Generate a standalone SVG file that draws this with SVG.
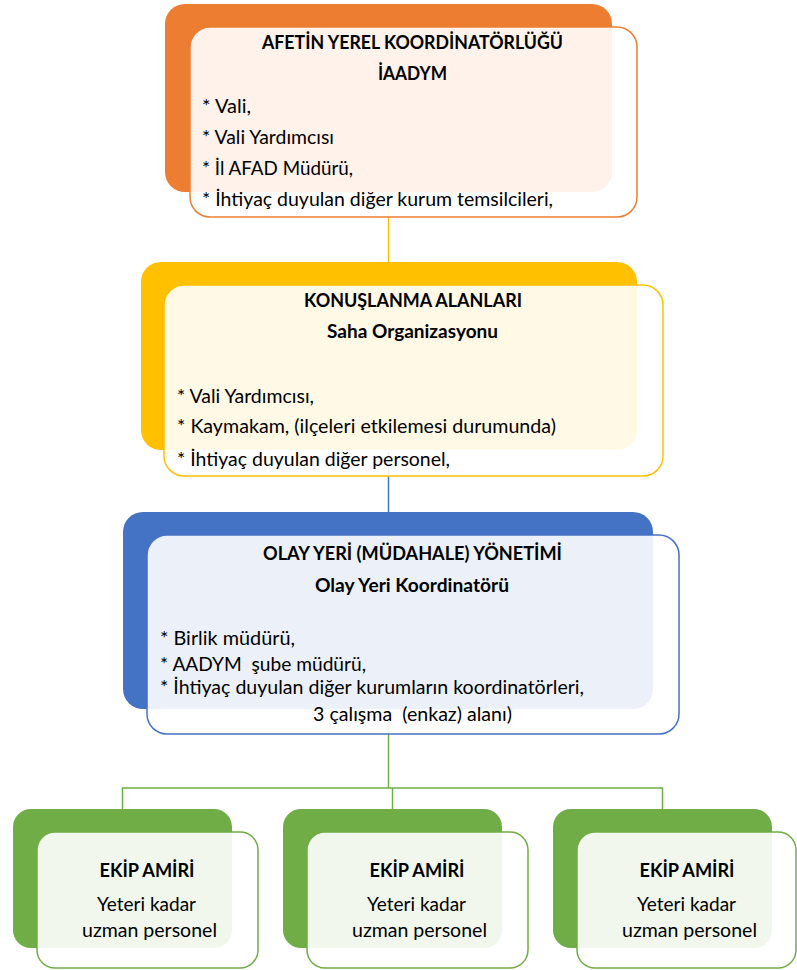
<svg xmlns="http://www.w3.org/2000/svg" width="797" height="970" viewBox="0 0 797 970">
<style>
text { font-family: Lato, "Liberation Sans", sans-serif; font-size: 18.5px; fill: #000000; white-space: pre; }
.b { font-weight: bold; }
.front { fill: #ffffff; fill-opacity: 0.9; stroke-width: 1.5; }
.conn { fill: none; stroke-width: 1.5; }
</style>
<rect x="0" y="0" width="797" height="970" fill="#ffffff"/>
<g id="connectors">
  <line class="conn" x1="388.5" y1="190" x2="388.5" y2="262" stroke="#FFC000"/>
  <line class="conn" x1="388.5" y1="452" x2="388.5" y2="512" stroke="#4472C4"/>
  <path class="conn" d="M388.5 709 V788 M122.5 809 V788 H662.5 V809 M392.5 788 V809" stroke="#70AD47" stroke-width="2"/>
</g>
<g id="node-afetin">
  <rect x="165" y="4" width="447" height="188" rx="20" fill="#ED7D31"/>
  <rect class="front" x="190" y="27" width="447" height="190" rx="20" stroke="#ED7D31"/>
  <text class="b" x="262" y="48.5" textLength="301" lengthAdjust="spacingAndGlyphs">AFETİN YEREL KOORDİNATÖRLÜĞÜ</text>
  <text class="b" x="378" y="80" textLength="69" lengthAdjust="spacingAndGlyphs">İAADYM</text>
  <text x="202" y="112.5" textLength="49" lengthAdjust="spacingAndGlyphs">* Vali,</text>
  <text x="202" y="143.5" textLength="132" lengthAdjust="spacingAndGlyphs">* Vali Yardımcısı</text>
  <text x="202" y="175" textLength="151" lengthAdjust="spacingAndGlyphs">* İl AFAD Müdürü,</text>
  <text x="202" y="205.5" textLength="351" lengthAdjust="spacingAndGlyphs">* İhtiyaç duyulan diğer kurum temsilcileri,</text>
</g>
<g id="node-konuslanma">
  <rect x="141" y="262" width="496" height="188" rx="20" fill="#FFC000"/>
  <rect class="front" x="164" y="285" width="499" height="191" rx="20" stroke="#FFC000"/>
  <text class="b" x="304" y="307" textLength="218" lengthAdjust="spacingAndGlyphs">KONUŞLANMA ALANLARI</text>
  <text class="b" x="327" y="338" textLength="171" lengthAdjust="spacingAndGlyphs">Saha Organizasyonu</text>
  <text x="177" y="403" textLength="137" lengthAdjust="spacingAndGlyphs">* Vali Yardımcısı,</text>
  <text x="177" y="433" textLength="379" lengthAdjust="spacingAndGlyphs">* Kaymakam, (ilçeleri etkilemesi durumunda)</text>
  <text x="177" y="466" textLength="273" lengthAdjust="spacingAndGlyphs">* İhtiyaç duyulan diğer personel,</text>
</g>
<g id="node-olay-yeri">
  <rect x="123" y="512" width="530" height="197" rx="20" fill="#4472C4"/>
  <rect class="front" x="147" y="535" width="532" height="199" rx="20" stroke="#4472C4"/>
  <text class="b" x="263" y="560" textLength="299" lengthAdjust="spacingAndGlyphs">OLAY YERİ (MÜDAHALE) YÖNETİMİ</text>
  <text class="b" x="315" y="592" textLength="194" lengthAdjust="spacingAndGlyphs">Olay Yeri Koordinatörü</text>
  <text x="160" y="645" textLength="135" lengthAdjust="spacingAndGlyphs">* Birlik müdürü,</text>
  <text x="160" y="671" textLength="206" lengthAdjust="spacingAndGlyphs">* AADYM  şube müdürü,</text>
  <text x="160" y="694" textLength="424" lengthAdjust="spacingAndGlyphs">* İhtiyaç duyulan diğer kurumların koordinatörleri,</text>
  <text x="313" y="721" textLength="199" lengthAdjust="spacingAndGlyphs">3 çalışma  (enkaz) alanı)</text>
</g>
<g id="node-ekip-1">
  <rect x="13" y="809" width="219" height="139" rx="18" fill="#70AD47"/>
  <rect class="front" x="37" y="832" width="221" height="136" rx="18" stroke="#70AD47"/>
  <text class="b" x="99.5" y="877" textLength="95" lengthAdjust="spacingAndGlyphs">EKİP AMİRİ</text>
  <text x="97" y="911" textLength="99" lengthAdjust="spacingAndGlyphs">Yeteri kadar</text>
  <text x="82" y="937" textLength="135" lengthAdjust="spacingAndGlyphs">uzman personel</text>
</g>
<g id="node-ekip-2">
  <rect x="283" y="809" width="219" height="139" rx="18" fill="#70AD47"/>
  <rect class="front" x="307" y="832" width="221" height="136" rx="18" stroke="#70AD47"/>
  <text class="b" x="369.5" y="877" textLength="95" lengthAdjust="spacingAndGlyphs">EKİP AMİRİ</text>
  <text x="367" y="911" textLength="99" lengthAdjust="spacingAndGlyphs">Yeteri kadar</text>
  <text x="352" y="937" textLength="135" lengthAdjust="spacingAndGlyphs">uzman personel</text>
</g>
<g id="node-ekip-3">
  <rect x="553" y="809" width="219" height="139" rx="18" fill="#70AD47"/>
  <rect class="front" x="577" y="832" width="219" height="136" rx="18" stroke="#70AD47"/>
  <text class="b" x="639.5" y="877" textLength="95" lengthAdjust="spacingAndGlyphs">EKİP AMİRİ</text>
  <text x="637" y="911" textLength="99" lengthAdjust="spacingAndGlyphs">Yeteri kadar</text>
  <text x="622" y="937" textLength="135" lengthAdjust="spacingAndGlyphs">uzman personel</text>
</g>
</svg>
